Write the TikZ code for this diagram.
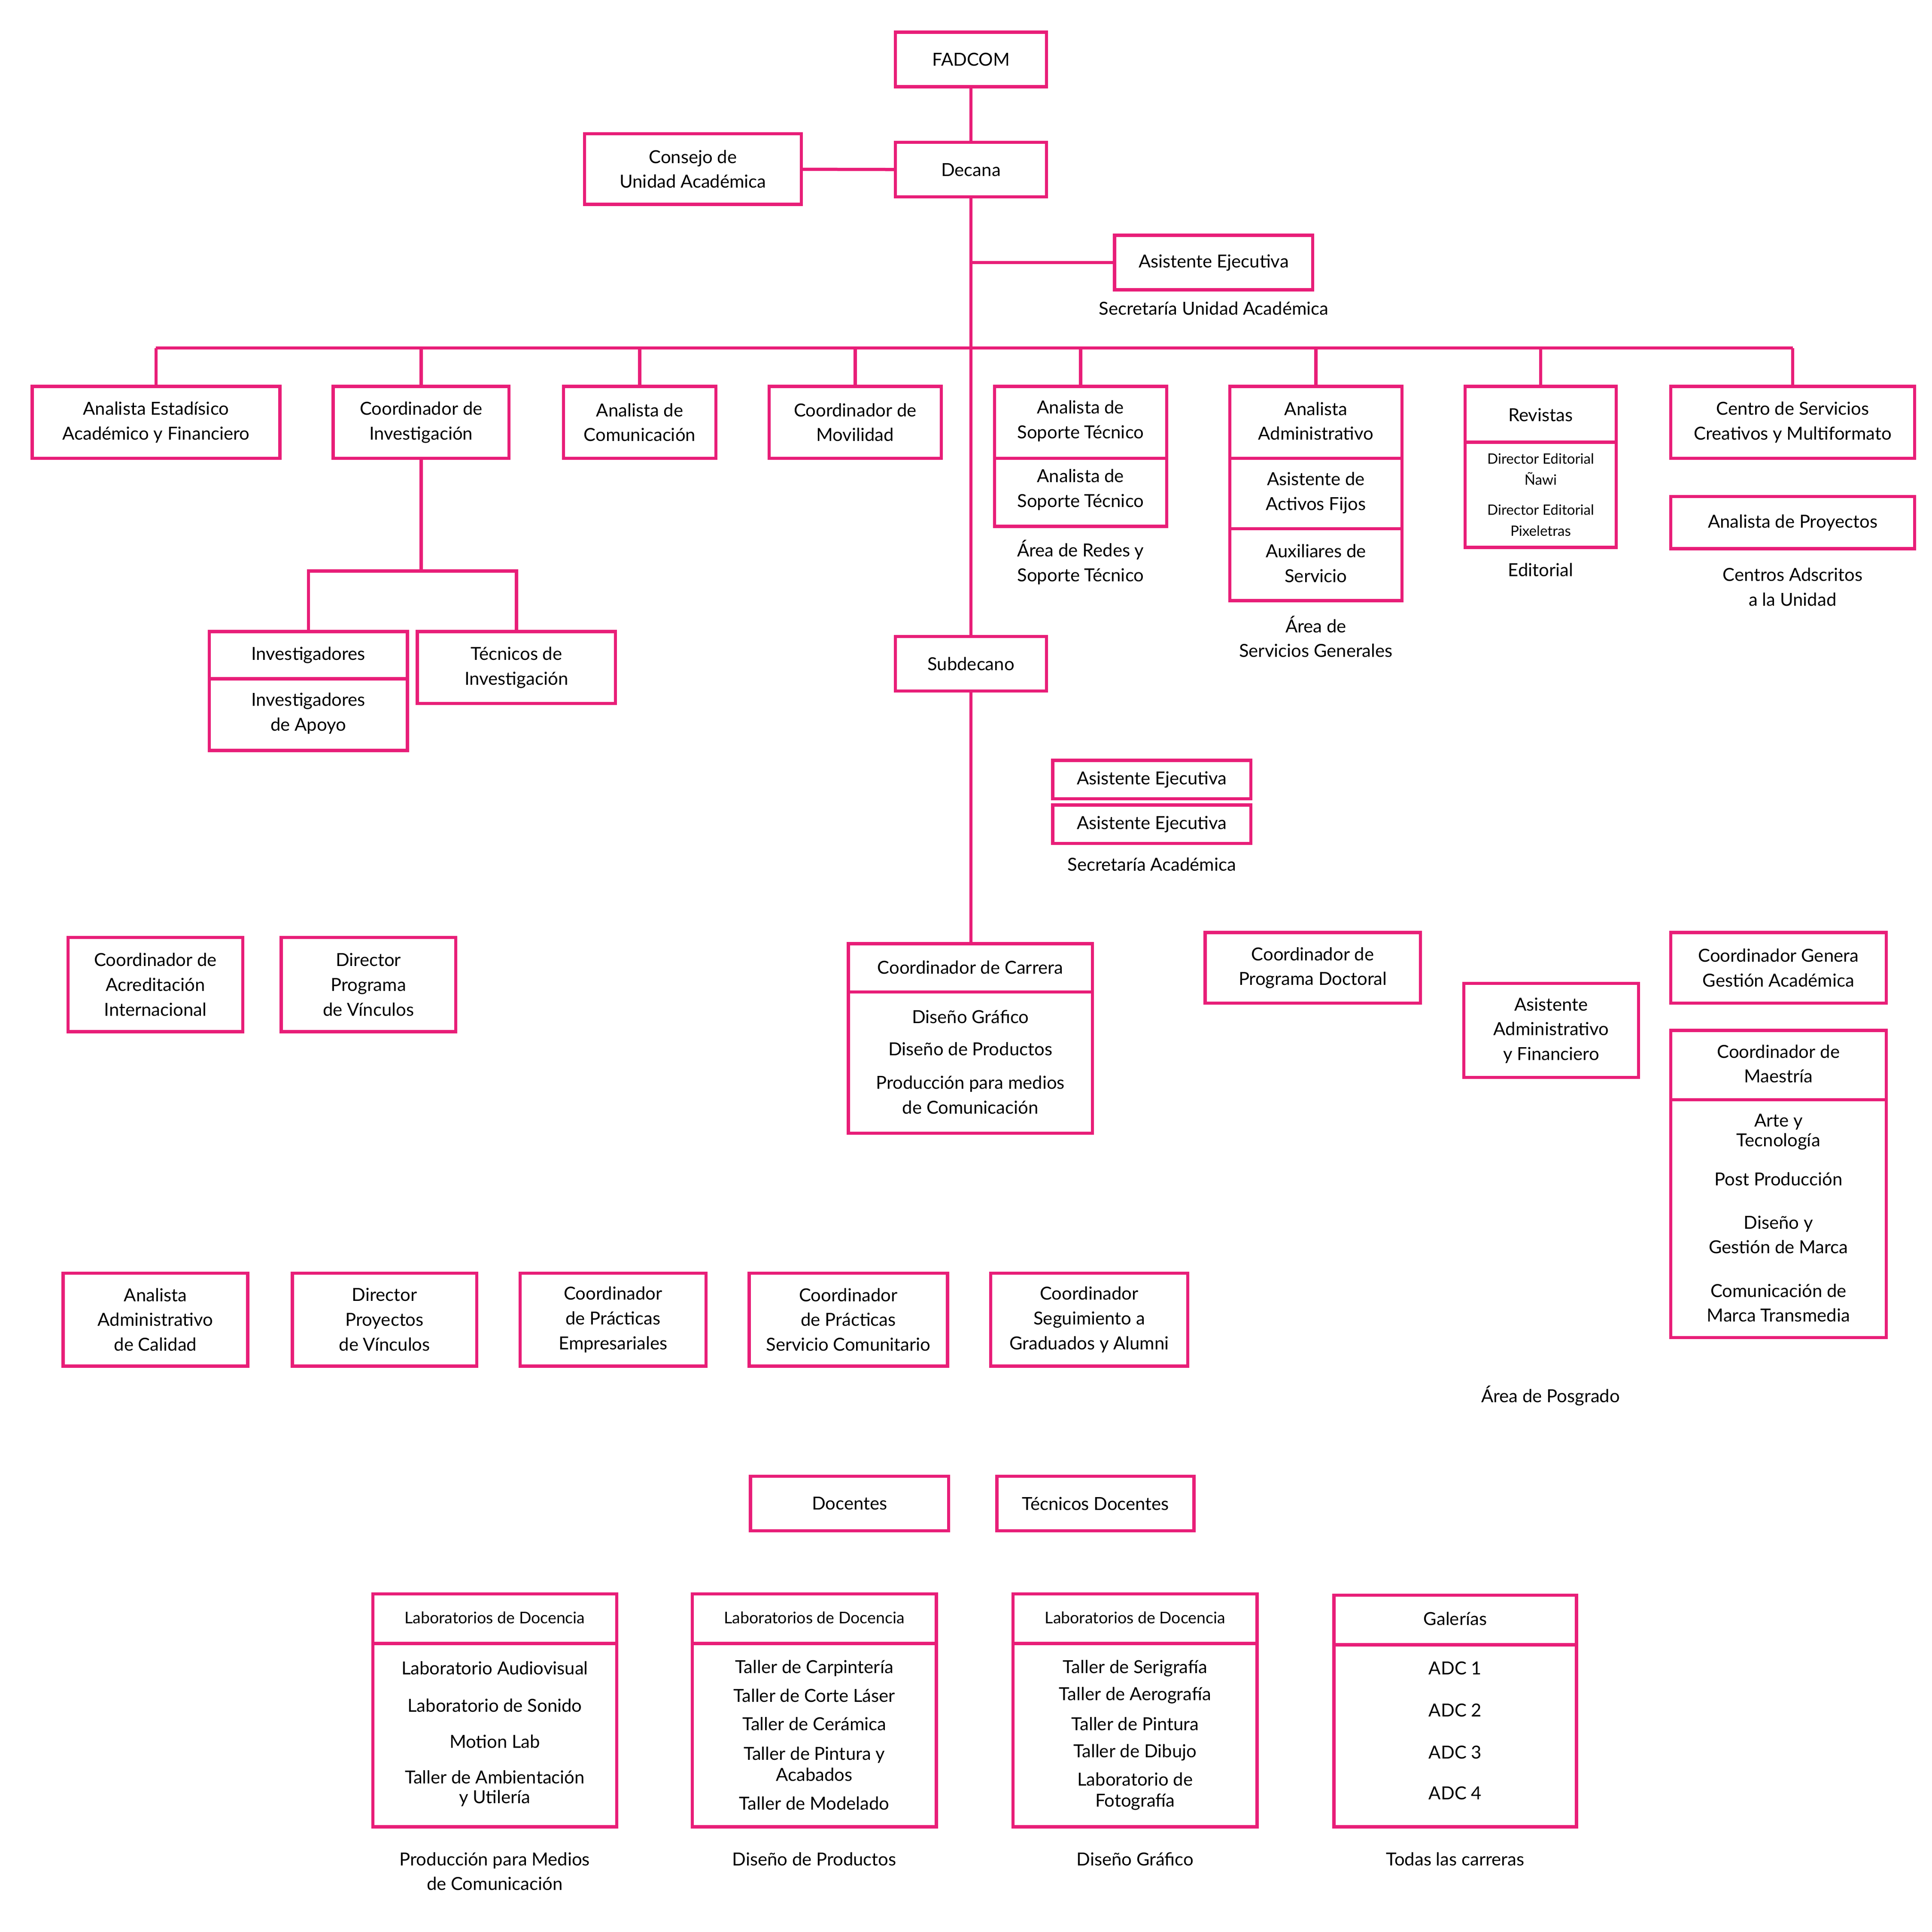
\documentclass[tikz,border=0pt]{standalone}
\usepackage{fontspec}
\setmainfont{Lato}
\definecolor{pk}{RGB}{232,30,120}
\begin{document}
\begin{tikzpicture}[x=1pt,y=-1pt,
  box/.style={draw=pk,line width=2.6pt,inner sep=0pt,align=center,font=\fontsize{14.5}{20}\selectfont},
  txt/.style={inner sep=0pt,align=center,font=\fontsize{14.5}{20}\selectfont},
  sm/.style={inner sep=0pt,align=center,font=\fontsize{11.5}{17}\selectfont},
  ln/.style={draw=pk,line width=2.6pt},
  dv/.style={draw=pk,line width=2.6pt}]
\useasboundingbox (0,0) rectangle (1560,1560);
\newcommand{\bx}[6]{\node[box,minimum width=#4pt,minimum height=#5pt] (#1) at (#2,#3) {#6};}
% top
\bx{fad}{784}{48}{122}{44}{FADCOM}
\bx{dec}{784}{137}{122}{44}{Decana}
\bx{con}{559.5}{136.5}{175}{57}{Consejo de\\Unidad Académica}
\bx{ase}{980}{212}{160}{44}{Asistente Ejecutiva}
\node[txt] (sua) at (980,249) {Secretaría Unidad Académica};
\draw[ln] (fad)--(dec);
\draw[ln] (con)--(dec);
\coordinate (b212) at (784,212);
\draw[ln] (b212)--(ase);
% row
\bx{r1}{126}{341}{200}{58}{Analista Estadísico\\Académico y Financiero}
\bx{r2}{340}{341}{142}{58}{Coordinador de\\Investigación}
\bx{r3}{516.5}{341}{123}{58}{Analista de\\Comunicación}
\bx{r4}{690.5}{341}{139}{58}{Coordinador de\\Movilidad}
\node[box,minimum width=139pt,minimum height=113pt] (r5) at (872.5,368.5) {};
\draw[dv] (803,370)--(942,370);
\node[txt] at (872.5,340) {Analista de\\Soporte Técnico};
\node[txt] at (872.5,395.5) {Analista de\\Soporte Técnico};
\node[txt] at (872.5,454) {Área de Redes y\\Soporte Técnico};
\node[box,minimum width=139pt,minimum height=173pt] (r6) at (1062.5,398.5) {};
\draw[dv] (993,370)--(1132,370);
\draw[dv] (993,427)--(1132,427);
\node[txt] at (1062.5,340) {Analista\\Administrativo};
\node[txt] at (1062.5,398) {Asistente de\\Activos Fijos};
\node[txt] at (1062.5,455) {Auxiliares de\\Servicio};
\node[txt] at (1062.5,514) {Área de\\Servicios Generales};
\node[box,minimum width=122pt,minimum height=130pt] (r7) at (1244,377) {};
\draw[dv] (1183,357)--(1305,357);
\node[txt] at (1244,335) {Revistas};
\node[sm] at (1244,379) {Director Editorial\\Ñawi};
\node[sm] at (1244,420) {Director Editorial\\Pixeletras};
\node[txt] at (1244,460) {Editorial};
\bx{r8}{1447.5}{341}{197}{58}{Centro de Servicios\\Creativos y Multiformato}
\bx{ap}{1447.5}{422}{197}{42}{Analista de Proyectos}
\node[txt] at (1447.5,474) {Centros Adscritos\\a la Unidad};
% bus
\coordinate (bus) at (784,281);
\draw[ln] (126,281)--(1447.5,281);
\foreach \n/\x in {r1/126,r2/340,r3/516.5,r4/690.5,r5/872.5,r6/1062.5,r7/1244,r8/1447.5}
  \draw[ln] (\x,281)--(\n.north);
% subdecano
\bx{sub}{784}{536}{122}{44}{Subdecano}
\draw[ln] (dec)--(sub);
% investigacion
\node[box,minimum width=160pt,minimum height=96pt] (inv) at (249,558) {};
\draw[dv] (169,548)--(329,548);
\node[txt] at (249,529) {Investigadores};
\node[txt] at (249,576) {Investigadores\\de Apoyo};
\bx{tec}{417}{539}{160}{58}{Técnicos de\\Investigación};
\coordinate (ij) at (340,461);
\draw[ln] (r2)--(ij);
\draw[ln] (inv.north)|-(ij)-|(tec.north);
% sec academica
\bx{ae1}{930}{629.5}{160}{31}{Asistente Ejecutiva}
\bx{ae2}{930}{665.5}{160}{31}{Asistente Ejecutiva}
\node[txt] at (930,698) {Secretaría Académica};
% carrera
\node[box,minimum width=197pt,minimum height=153pt] (cc) at (783.5,838.5) {};
\draw[dv] (685,801)--(882,801);
\node[txt] at (783.5,781) {Coordinador de Carrera};
\node[txt] at (783.5,821) {Diseño Gráfico};
\node[txt] at (783.5,847) {Diseño de Productos};
\node[txt] at (783.5,884) {Producción para medios\\de Comunicación};
\draw[ln] (sub)--(sub|-cc.north);
\bx{acr}{125.5}{795}{141}{76}{Coordinador de\\Acreditación\\Internacional}
\bx{dpv}{297.5}{795}{141}{76}{Director\\Programa\\de Vínculos}
\bx{doc}{1060}{781.5}{174}{57}{Coordinador de\\Programa Doctoral}
\bx{aaf}{1252.5}{832}{141}{76}{Asistente\\Administrativo\\y Financiero}
\bx{cga}{1436}{781.5}{174}{57}{Coordinador Genera\\Gestión Académica}
\node[box,minimum width=174pt,minimum height=248pt] (mae) at (1436,956) {};
\draw[dv] (1349,888)--(1523,888);
\node[txt] at (1436,859) {Coordinador de\\Maestría};
\node[txt,font=\fontsize{14.5}{16}\selectfont] at (1436,914) {Arte y\\Tecnología};
\node[txt] at (1436,952) {Post Producción};
\node[txt] at (1436,997) {Diseño y\\Gestión de Marca};
\node[txt] at (1436,1052) {Comunicación de\\Marca Transmedia};
\node[txt] at (1252,1127) {Área de Posgrado};
% row 1065
\bx{c1}{125.5}{1065.5}{149}{75}{Analista\\Administrativo\\de Calidad}
\bx{c2}{310.5}{1065.5}{149}{75}{Director\\Proyectos\\de Vínculos}
\bx{c3}{495}{1065.5}{150}{75}{Coordinador\\de Prácticas\\Empresariales}
\bx{c4}{685}{1065.5}{160}{75}{Coordinador\\de Prácticas\\Servicio Comunitario}
\bx{c5}{879.5}{1065.5}{159}{75}{Coordinador\\Seguimiento a\\Graduados y Alumni}
\bx{dcs}{686}{1214}{160}{44}{Docentes}
\bx{tds}{884.5}{1214}{159}{44}{Técnicos Docentes}
% labs
\node[box,minimum width=197pt,minimum height=188pt] (l1) at (399.5,1381) {};
\draw[dv] (301,1327)--(498,1327);
\node[txt,font=\fontsize{13}{18}\selectfont] at (399.5,1306) {Laboratorios de Docencia};
\node[txt] at (399.5,1347) {Laboratorio Audiovisual};
\node[txt] at (399.5,1377) {Laboratorio de Sonido};
\node[txt] at (399.5,1406) {Motion Lab};
\node[txt,font=\fontsize{14.5}{16}\selectfont] at (399.5,1444) {Taller de Ambientación\\y Utilería};
\node[txt] at (399.5,1511) {Producción para Medios\\de Comunicación};
\node[box,minimum width=197pt,minimum height=188pt] (l2) at (657.5,1381) {};
\draw[dv] (559,1327)--(756,1327);
\node[txt,font=\fontsize{13}{18}\selectfont] at (657.5,1306) {Laboratorios de Docencia};
\node[txt] at (657.5,1347) {Taller de Carpintería};
\node[txt] at (657.5,1369) {Taller de Corte Láser};
\node[txt] at (657.5,1392) {Taller de Cerámica};
\node[txt,font=\fontsize{14.5}{17}\selectfont] at (657.5,1424.5) {Taller de Pintura y\\Acabados};
\node[txt] at (657.5,1456) {Taller de Modelado};
\node[txt] at (657.5,1501) {Diseño de Productos};
\node[box,minimum width=197pt,minimum height=188pt] (l3) at (916.5,1381) {};
\draw[dv] (818,1327)--(1015,1327);
\node[txt,font=\fontsize{13}{18}\selectfont] at (916.5,1306) {Laboratorios de Docencia};
\node[txt] at (916.5,1347) {Taller de Serigrafía};
\node[txt] at (916.5,1369) {Taller de Aerografía};
\node[txt] at (916.5,1392) {Taller de Pintura};
\node[txt] at (916.5,1415) {Taller de Dibujo};
\node[txt,font=\fontsize{14.5}{17}\selectfont] at (916.5,1446.5) {Laboratorio de\\Fotografía};
\node[txt] at (916.5,1501) {Diseño Gráfico};
\node[box,minimum width=196pt,minimum height=187pt] (l4) at (1175,1381.5) {};
\draw[dv] (1077,1328)--(1273,1328);
\node[txt] at (1175,1307) {Galerías};
\node[txt] at (1175,1347) {ADC 1};
\node[txt] at (1175,1381) {ADC 2};
\node[txt] at (1175,1415) {ADC 3};
\node[txt] at (1175,1448) {ADC 4};
\node[txt] at (1175,1501) {Todas las carreras};
\end{tikzpicture}
\end{document}
